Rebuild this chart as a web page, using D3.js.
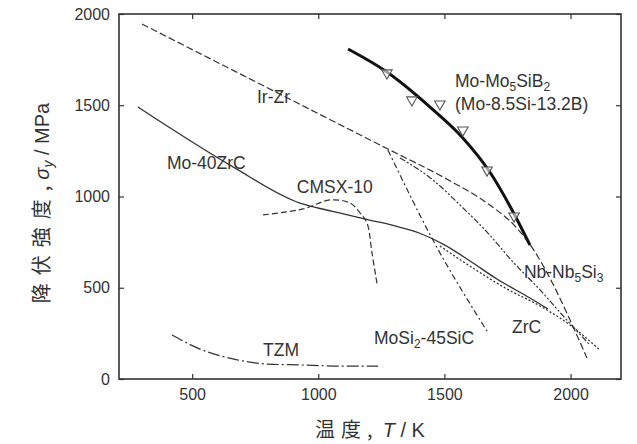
<!DOCTYPE html>
<html><head><meta charset="utf-8">
<script src="https://cdn.jsdelivr.net/npm/d3@7"></script>
<style>
html,body{margin:0;padding:0;background:#fff;}
svg{display:block;}
text{font-family:"Liberation Sans",Arial,sans-serif;fill:#333;}
</style></head><body>
<svg id="chart" width="637" height="444"></svg>
<script>
// ---- data (temperature T in K, yield stress in MPa) ----
const xTicks = [500, 1000, 1500, 2000];
const yTicks = [0, 500, 1000, 1500, 2000];

const irZr = [[301,1945],[1276,1260],[1502,1101],[1680,953],[1780,838],[1859,696],[1926,532],[1998,323],[2065,115]];
const mo40ZrC = [[285,1490],[662,1162],[927,964],[999,937],[1100,905],[1200,872],[1300,840],[1400,800],[1500,735],[1600,648],[1708,548],[1839,444],[1910,384]];
const cmsx10 = [[781,899],[939,932],[1046,981],[1126,964],[1165,910],[1193,855],[1213,690],[1233,520]];
const tzm = [[420,241],[531,164],[662,110],[797,82],[927,77],[1086,71],[1237,71]];
const moSi2SiC = [[1276,1255],[1455,760],[1669,262]];
const zrC = [[1482,729],[1613,608],[1748,493],[1879,400],[1998,296],[2116,159]];
const nbNb5Si3 = [[1324,1211],[1455,1090],[1562,953],[1669,805],[1772,641],[1879,488],[1978,334],[2077,186]];
const moMo5SiB2 = [[1118,1808],[1272,1682],[1443,1490],[1573,1321],[1680,1134],[1768,926],[1839,734]];
const moMo5SiB2Pts = [[1272,1677],[1371,1529],[1573,1364],[1669,1145],[1776,893]];

// label anchors (data coords)
const labelPos = {
  irZr:[757,1512], mo40:[400,1151], cmsx:[915,1019], tzm:[781,126],
  mosi2:[1221,192], zrc:[1768,252], nb:[1815,553], moB1:[1542,1600], moB2:[1542,1474], legMark:[1482,1507]
};

// ---- layout ----
const svg = d3.select('#chart');
const X0=119, X1=621, Y0=379, Y1=14;
const x = d3.scaleLinear().domain([210,2200]).range([X0,X1]);
const y = d3.scaleLinear().domain([0,2000]).range([Y0,Y1]);
const ink = '#333';
const fmt = d3.format('d');

// axes (inward ticks on all four sides)
const ax = [
  svg.append('g').attr('transform',`translate(0,${Y0})`).call(d3.axisBottom(x).tickValues(xTicks).tickFormat(fmt).tickSizeInner(-5).tickSizeOuter(0).tickPadding(10)),
  svg.append('g').attr('transform',`translate(0,${Y1})`).call(d3.axisTop(x).tickValues(xTicks).tickSizeInner(-5).tickSizeOuter(0).tickFormat('')),
  svg.append('g').attr('transform',`translate(${X0},0)`).call(d3.axisLeft(y).tickValues(yTicks).tickFormat(fmt).tickSizeInner(-5).tickSizeOuter(0).tickPadding(9)),
  svg.append('g').attr('transform',`translate(${X1},0)`).call(d3.axisRight(y).tickValues(yTicks).tickSizeInner(-5).tickSizeOuter(0).tickFormat(''))
];
ax.forEach(g=>{
  g.select('.domain').remove();
  g.selectAll('line').attr('stroke',ink).attr('stroke-width',1.2);
  g.selectAll('text').attr('fill','#444').style('font-size','16px').style('font-family','"Liberation Sans",Arial,sans-serif');
});
svg.append('rect').attr('x',X0).attr('y',Y1).attr('width',X1-X0).attr('height',Y0-Y1)
  .attr('fill','none').attr('stroke',ink).attr('stroke-width',1.6);

// curves
const lineC = d3.line().x(d=>x(d[0])).y(d=>y(d[1])).curve(d3.curveCatmullRom.alpha(0.5));
const lineM = d3.line().x(d=>x(d[0])).y(d=>y(d[1])).curve(d3.curveMonotoneX);
function drawCurve(gen, data, w, dash, col){
  svg.append('path').attr('d',gen(data)).attr('fill','none')
    .attr('stroke',col||ink).attr('stroke-width',w).attr('stroke-dasharray',dash||null)
    .attr('stroke-linecap','butt');
}
drawCurve(lineM, irZr,1.2,'7,3');
drawCurve(lineM, mo40ZrC,1.3,null);
drawCurve(lineC, cmsx10,1.2,'6,3');
drawCurve(lineM, tzm,1.2,'12,3,2,3');
drawCurve(lineM, moSi2SiC,1.2,'6,3,2,3');
drawCurve(lineM, zrC,1.3,'2,2');
drawCurve(lineM, nbNb5Si3,1.2,'6,2,2,2,2,2');
drawCurve(lineM, moMo5SiB2,3,null,'#111');

// markers (open down-triangles)
const tri = d3.symbol().type(d3.symbolTriangle).size(48);
svg.selectAll('.mk').data(moMo5SiB2Pts).enter().append('path')
  .attr('d',tri).attr('transform',d=>`translate(${x(d[0])},${y(d[1])}) rotate(180)`)
  .attr('fill','#fff').attr('fill-opacity',0.6).attr('stroke','#555').attr('stroke-width',1.1);
svg.append('path').attr('d',tri)
  .attr('transform',`translate(${x(labelPos.legMark[0])},${y(labelPos.legMark[1])}) rotate(180)`)
  .attr('fill','#fff').attr('stroke','#555').attr('stroke-width',1.1);

// labels
function label(pos, parts, size){
  const t = svg.append('text').attr('x',x(pos[0])).attr('y',y(pos[1])).style('font-size',(size||17.5)+'px');
  parts.forEach(p=>{
    if(typeof p==='string'){ t.append('tspan').text(p); }
    else { t.append('tspan').attr('dy',p.dy).style('font-size',p.fs).text(p.t); }
  });
  return t;
}
label(labelPos.irZr,['Ir-Zr']);
label(labelPos.mo40,['Mo-40ZrC']);
label(labelPos.cmsx,['CMSX-10']);
label(labelPos.tzm,['TZM']);
label(labelPos.mosi2,['MoSi',{t:'2',dy:4,fs:'12px'},{t:'-45SiC',dy:-4,fs:'17.5px'}]);
label(labelPos.zrc,['ZrC']);
label(labelPos.nb,['Nb-Nb',{t:'5',dy:4,fs:'12px'},{t:'Si',dy:-4,fs:'17.5px'},{t:'3',dy:4,fs:'12px'}]);
label(labelPos.moB1,['Mo-Mo',{t:'5',dy:4,fs:'12px'},{t:'SiB',dy:-4,fs:'17.5px'},{t:'2',dy:4,fs:'12px'}]);
label(labelPos.moB2,['(Mo-8.5Si-13.2B)']);

// axis titles
const xt = svg.append('text').attr('x',370).attr('y',437).attr('text-anchor','middle').style('font-size','20px');
xt.append('tspan').style('font-family','"Noto Sans CJK JP",sans-serif').style('letter-spacing','6px').text('温度,');
xt.append('tspan').attr('dx',4).style('font-style','italic').text('T');
xt.append('tspan').text(' / K');

const yt = svg.append('text').attr('transform','translate(49,203) rotate(-90)').attr('text-anchor','middle').style('font-size','20px');
yt.append('tspan').style('font-family','"Noto Sans CJK JP",sans-serif').style('letter-spacing','8px').text('降伏強度,');
yt.append('tspan').attr('dx',-2).style('font-style','italic').text('σ');
yt.append('tspan').attr('dy',4).style('font-size','14px').style('font-style','italic').text('y');
yt.append('tspan').attr('dy',-4).text(' / MPa');
</script>
</body></html>
